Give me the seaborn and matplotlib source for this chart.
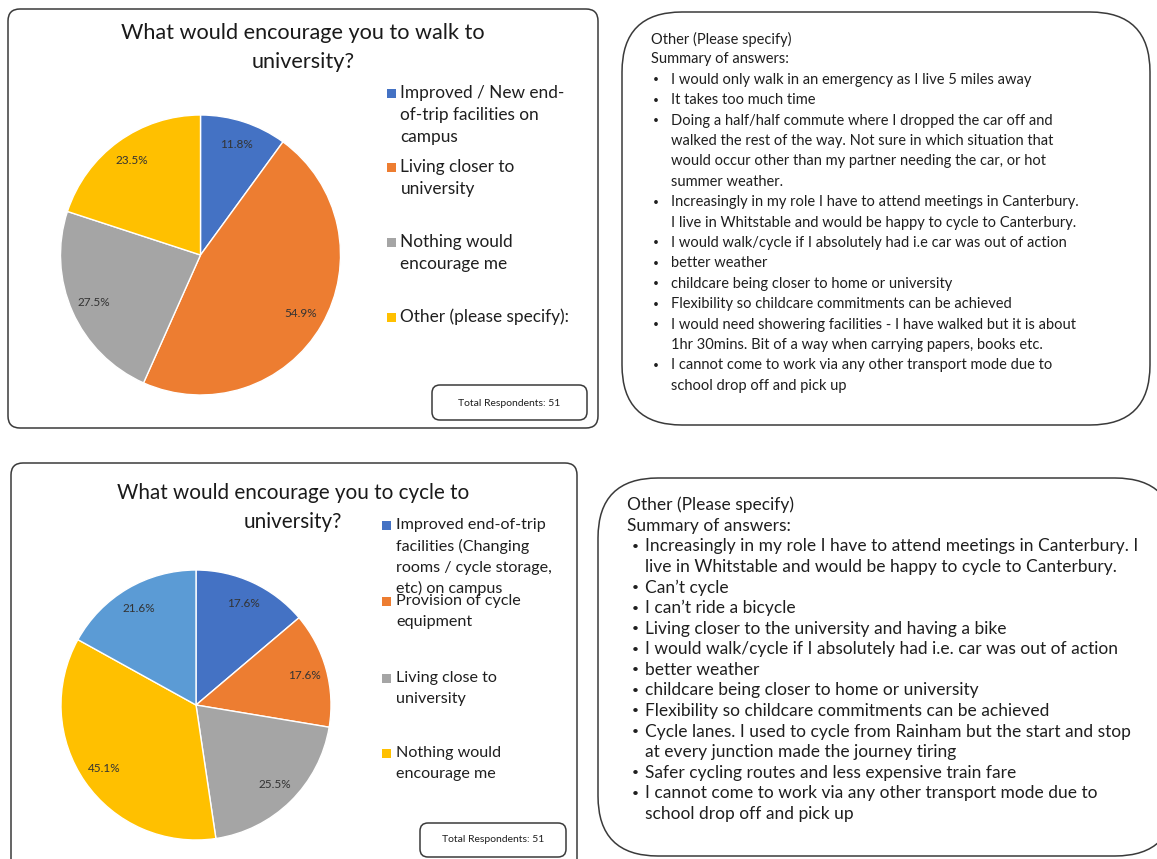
import matplotlib
matplotlib.use("Agg")
import matplotlib.pyplot as plt
from matplotlib.patches import FancyBboxPatch, Rectangle
import seaborn as sns

# ---- data -------------------------------------------------------------
walk_title = "What would encourage you to walk to\nuniversity?"
walk_labels = [
    "Improved / New end-\nof-trip facilities on\ncampus",
    "Living closer to\nuniversity",
    "Nothing would\nencourage me",
    "Other (please specify):",
]
walk_values = [11.8, 54.9, 27.5, 23.5]

cycle_title = "What would encourage you to cycle to\nuniversity?"
cycle_labels = [
    "Improved end-of-trip\nfacilities (Changing\nrooms / cycle storage,\netc) on campus",
    "Provision of cycle\nequipment",
    "Living close to\nuniversity",
    "Nothing would\nencourage me",
    None,
]
cycle_values = [17.6, 17.6, 25.5, 45.1, 21.6]

respondents = [51, 51]

palette = ["#4472C4", "#ED7D31", "#A5A5A5", "#FFC000", "#5B9BD5"]

other_header = ["Other (Please specify)", "Summary of answers:"]
walk_other = [
    ["I would only walk in an emergency as I live 5 miles away"],
    ["It takes too much time"],
    ["Doing a half/half commute where I dropped the car off and",
     "walked the rest of the way. Not sure in which situation that",
     "would occur other than my partner needing the car, or hot",
     "summer weather."],
    ["Increasingly in my role I have to attend meetings in Canterbury.",
     "I live in Whitstable and would be happy to cycle to Canterbury."],
    ["I would walk/cycle if I absolutely had i.e car was out of action"],
    ["better weather"],
    ["childcare being closer to home or university"],
    ["Flexibility so childcare commitments can be achieved"],
    ["I would need showering facilities - I have walked but it is about",
     "1hr 30mins. Bit of a way when carrying papers, books etc."],
    ["I cannot come to work via any other transport mode due to",
     "school drop off and pick up"],
]
cycle_other = [
    ["Increasingly in my role I have to attend meetings in Canterbury. I",
     "live in Whitstable and would be happy to cycle to Canterbury."],
    ["Can\u2019t cycle"],
    ["I can\u2019t ride a bicycle"],
    ["Living closer to the university and having a bike"],
    ["I would walk/cycle if I absolutely had i.e. car was out of action"],
    ["better weather"],
    ["childcare being closer to home or university"],
    ["Flexibility so childcare commitments can be achieved"],
    ["Cycle lanes. I used to cycle from Rainham but the start and stop",
     "at every junction made the journey tiring"],
    ["Safer cycling routes and less expensive train fare"],
    ["I cannot come to work via any other transport mode due to",
     "school drop off and pick up"],
]

# ---- figure setup -----------------------------------------------------
sns.set_theme(style="white")
plt.rcParams["font.family"] = ["Lato", "DejaVu Sans"]

W, H = 1157, 859
fig = plt.figure(figsize=(W / 100, H / 100), dpi=100)
fig.patch.set_facecolor("white")

# pixel-coordinate canvas for frames and text
bg = fig.add_axes([0, 0, 1, 1])
bg.set_xlim(0, W)
bg.set_ylim(H, 0)
bg.axis("off")

TXT = "#1f1f1f"
EDGE = "#3a3a3a"


def frame(x0, y0, x1, y1, r, lw=1.1):
    bg.add_patch(FancyBboxPatch((x0, y0), x1 - x0, y1 - y0,
                                boxstyle=f"round,pad=0,rounding_size={r}",
                                fc="white", ec=EDGE, lw=lw, clip_on=False))


def pie_panel(cx, cy, r, values, colors):
    ax = fig.add_axes([(cx - r) / W, 1 - (cy + r) / H, 2 * r / W, 2 * r / H])
    wedges, texts = ax.pie(values, colors=colors, startangle=90,
                           counterclock=False, radius=1,
                           labels=[f"{v}%" for v in values],
                           labeldistance=0.83,
                           textprops=dict(fontsize=8.5, color="#333333"))
    for t in texts:
        t.set_ha("center")
        t.set_va("center")
    ax.set_xlim(-1, 1)
    ax.set_ylim(-1, 1)
    ax.axis("off")
    return wedges


def legend_block(x, ys, labels, wedges, fs=12.4, lsp=22):
    for y, lab, w in zip(ys, labels, wedges):
        if lab is None:
            continue
        bg.add_patch(Rectangle((x - 4.5, y - 4.5), 9, 9,
                               fc=w.get_facecolor(), ec="none"))
        for i, line in enumerate(lab.split("\n")):
            bg.text(x + 9.5, y + i * lsp, line, fontsize=fs, color=TXT,
                    ha="left", va="center")


def notes_block(x, y, items, fs, step, bullet_dx, indent):
    for i, line in enumerate(other_header):
        bg.text(x, y + i * step, line, fontsize=fs, color=TXT, va="center")
    row = len(other_header)
    for item in items:
        for j, line in enumerate(item):
            yy = y + row * step
            if j == 0:
                bg.text(x + bullet_dx, yy, "\u2022", fontsize=fs * 0.7,
                        color=TXT, ha="center", va="center")
            bg.text(x + indent, yy, line, fontsize=fs, color=TXT, va="center")
            row += 1


# ---- walk panel --------------------------------------------------------
frame(8, 9, 598, 428, 12)
for i, line in enumerate(walk_title.split("\n")):
    bg.text(303, 33 + i * 29, line, fontsize=15.6, color="#1a1a1a",
            ha="center", va="center")
w1 = pie_panel(200.5, 255, 140, walk_values, palette[:4])
legend_block(391, [93, 167, 242, 317], walk_labels, w1)
frame(432, 385, 587, 420, 8)
bg.text(509, 403, f"Total Respondents: {respondents[0]}", fontsize=7.5,
        color=TXT, ha="center", va="center")

# ---- walk notes --------------------------------------------------------
frame(622, 12, 1150, 425, 60)
notes_block(651, 39, walk_other, 10.5, 20.4, 5, 20)

# ---- cycle panel -------------------------------------------------------
frame(11, 463, 577, 880, 12)
for i, line in enumerate(cycle_title.split("\n")):
    bg.text(293, 493 + i * 29, line, fontsize=14.9, color="#1a1a1a",
            ha="center", va="center")
w2 = pie_panel(196, 705, 135, cycle_values, palette)
legend_block(386.5, [525, 601, 678, 753], cycle_labels, w2, fs=11.6, lsp=21.3)
frame(420, 823, 566, 857, 8)
bg.text(493, 840, f"Total Respondents: {respondents[1]}", fontsize=7.5,
        color=TXT, ha="center", va="center")

# ---- cycle notes -------------------------------------------------------
frame(598, 478, 1175, 856, 60)
notes_block(627, 505, cycle_other, 12.5, 20.6, 8, 18)

fig.savefig("out.png", dpi=100, facecolor="white")
